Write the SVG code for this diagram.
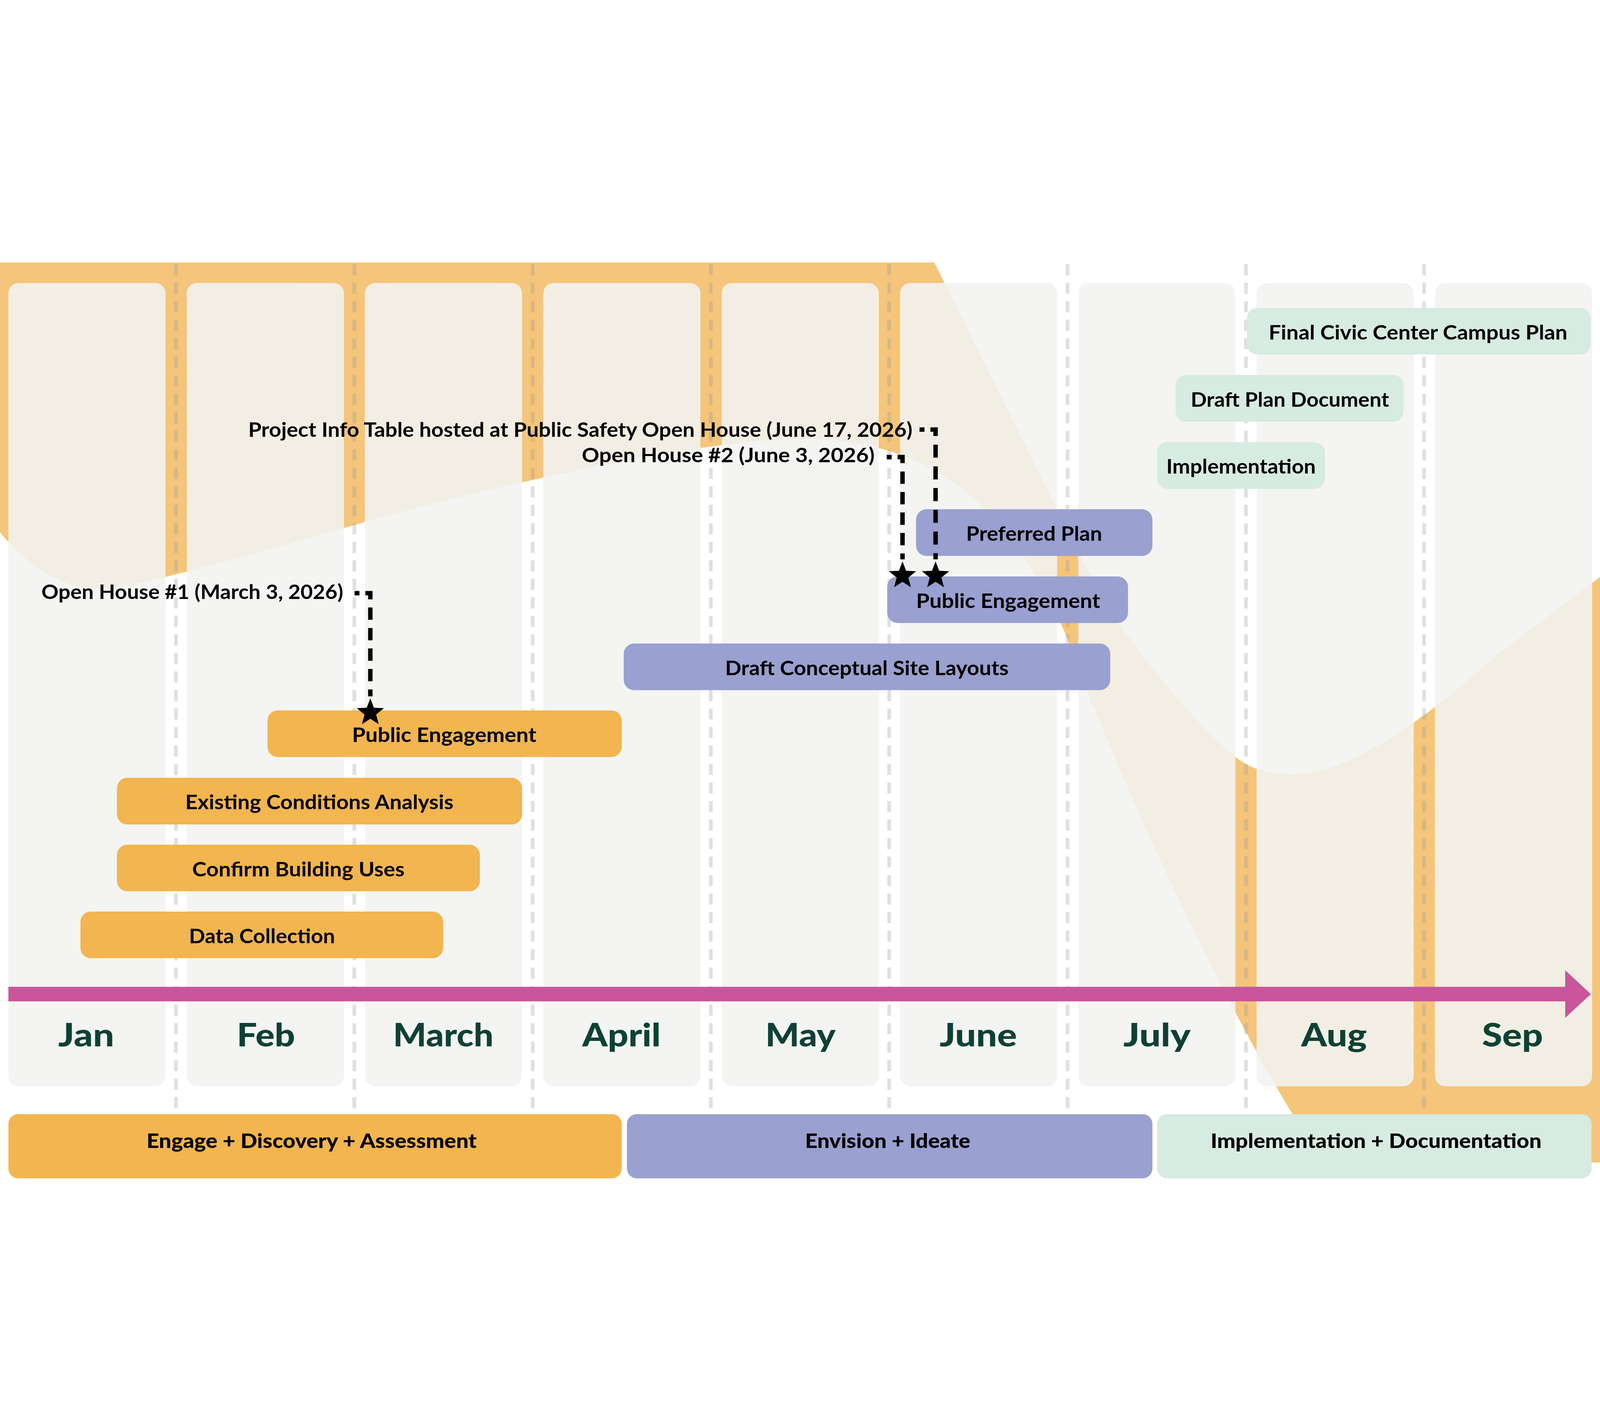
<svg xmlns="http://www.w3.org/2000/svg" xmlns:xlink="http://www.w3.org/1999/xlink" width="6485" height="3647" viewBox="0 0 6485 3647">
<style>
svg{width:100vw;height:100vh}
.bg{fill:#FFFFFF}
.band{fill:#F4C57A}
.col{fill:#F3F3F0;fill-opacity:0.89}
.gap{stroke:#989898;stroke-opacity:0.3;stroke-width:15;stroke-dasharray:45 30;fill:none}
.bo{fill:#F2B54F}
.bp{fill:#9AA0CF}
.bg2{fill:#D6EBE1}
.t{font-family:Lato,"Open Sans","Liberation Sans",sans-serif;font-weight:700;font-size:82px;fill:#000000}
.m{font-family:Lato,"Open Sans","Liberation Sans",sans-serif;font-weight:900;font-size:130px;fill:#0E4135}
.ph{font-family:Lato,"Open Sans","Liberation Sans",sans-serif;font-weight:900;font-size:82px;fill:#000000}
.c{stroke:#000000;stroke-width:18;fill:none;stroke-linejoin:miter;stroke-linecap:butt}
.star{fill:#000000}
.tl{fill:#C9559C}
</style>
<defs>
<path id="starShape" d="M0,-58 L14.5,-20 L55.2,-17.9 L23.5,7.7 L34.1,46.9 L0,25 L-34.1,46.9 L-23.5,7.7 L-55.2,-17.9 L-14.5,-20 Z"/>
</defs>
<rect class="bg" x="0" y="0" width="6485" height="3647"/>
<g id="background">
<path class="band" d="M0,1093 C100,1220 250,1322 400,1322 C550,1322 1100,1160 1474,1053 C1850,945 2800,715 3250,715 C3800,715 4150,1000 4408,1733 C4600,2230 5000,3100 5362,3647 L6485,3647 L6485,1275 L6070,1587 C5750,1880 5450,2073 5253,2073 C5150,2073 5080,2063 5002,1999 C4820,1850 4520,1475 4420,1272 L3787,0 L0,0 Z"/>
<g id="gridlines">
<line class="gap" x1="713" y1="7" x2="713" y2="3647"/>
<line class="gap" x1="1436" y1="7" x2="1436" y2="3647"/>
<line class="gap" x1="2159" y1="7" x2="2159" y2="3647"/>
<line class="gap" x1="2881" y1="7" x2="2881" y2="3647"/>
<line class="gap" x1="3604" y1="7" x2="3604" y2="3647"/>
<line class="gap" x1="4327" y1="7" x2="4327" y2="3647"/>
<line class="gap" x1="5050" y1="7" x2="5050" y2="3647"/>
<line class="gap" x1="5772" y1="7" x2="5772" y2="3647"/>
</g>
</g>
<g id="month-columns">
<g id="col-jan"><rect class="col" x="34" y="83" width="637" height="3255" rx="42"/><text class="m" x="236" y="3177" textLength="227" lengthAdjust="spacingAndGlyphs">Jan</text></g>
<g id="col-feb"><rect class="col" x="757" y="83" width="637" height="3255" rx="42"/><text class="m" x="960" y="3177" textLength="236" lengthAdjust="spacingAndGlyphs">Feb</text></g>
<g id="col-mar"><rect class="col" x="1479" y="83" width="637" height="3255" rx="42"/><text class="m" x="1593" y="3177" textLength="407" lengthAdjust="spacingAndGlyphs">March</text></g>
<g id="col-apr"><rect class="col" x="2202" y="83" width="637" height="3255" rx="42"/><text class="m" x="2360" y="3177" textLength="318" lengthAdjust="spacingAndGlyphs">April</text></g>
<g id="col-may"><rect class="col" x="2925" y="83" width="637" height="3255" rx="42"/><text class="m" x="3102" y="3177" textLength="285" lengthAdjust="spacingAndGlyphs">May</text></g>
<g id="col-jun"><rect class="col" x="3648" y="83" width="637" height="3255" rx="42"/><text class="m" x="3808" y="3177" textLength="314" lengthAdjust="spacingAndGlyphs">June</text></g>
<g id="col-jul"><rect class="col" x="4370" y="83" width="637" height="3255" rx="42"/><text class="m" x="4553" y="3177" textLength="273" lengthAdjust="spacingAndGlyphs">July</text></g>
<g id="col-aug"><rect class="col" x="5093" y="83" width="637" height="3255" rx="42"/><text class="m" x="5274" y="3177" textLength="266" lengthAdjust="spacingAndGlyphs">Aug</text></g>
<g id="col-sep"><rect class="col" x="5816" y="83" width="637" height="3255" rx="42"/><text class="m" x="6007" y="3177" textLength="247" lengthAdjust="spacingAndGlyphs">Sep</text></g>
</g>
<g id="timeline">
<rect class="tl" x="34" y="2935" width="6312" height="59"/>
<polygon class="tl" points="6344,2868 6448,2964.5 6344,3061"/>
</g>
<g id="phases">
<g id="phase-engage"><rect class="bo" x="34" y="3451" width="2486" height="260" rx="40"/><text class="ph" x="594" y="3588" textLength="1338" lengthAdjust="spacingAndGlyphs">Engage + Discovery + Assessment</text></g>
<g id="phase-envision"><rect class="bp" x="2541" y="3451" width="2130" height="260" rx="40"/><text class="ph" x="3263" y="3588" textLength="670" lengthAdjust="spacingAndGlyphs">Envision + Ideate</text></g>
<g id="phase-implementation"><rect class="bg2" x="4690" y="3451" width="1761" height="260" rx="40"/><text class="ph" x="4907" y="3588" textLength="1341" lengthAdjust="spacingAndGlyphs">Implementation + Documentation</text></g>
</g>
<g id="tasks">
<g id="task-final-plan"><rect class="bg2" x="5054" y="184" width="1393" height="189" rx="42"/><text class="t" x="5142" y="312" textLength="1211" lengthAdjust="spacingAndGlyphs">Final Civic Center Campus Plan</text></g>
<g id="task-draft-plan"><rect class="bg2" x="4765" y="456" width="924" height="189" rx="42"/><text class="t" x="4826" y="584" textLength="804" lengthAdjust="spacingAndGlyphs">Draft Plan Document</text></g>
<g id="task-implementation"><rect class="bg2" x="4690" y="728" width="680" height="189" rx="42"/><text class="t" x="4727" y="856" textLength="606" lengthAdjust="spacingAndGlyphs">Implementation</text></g>
<g id="task-preferred-plan"><rect class="bp" x="3713" y="1000" width="958" height="189" rx="42"/><text class="t" x="3916" y="1128" textLength="551" lengthAdjust="spacingAndGlyphs">Preferred Plan</text></g>
<g id="task-public-engagement-2"><rect class="bp" x="3596" y="1272" width="976" height="189" rx="42"/><text class="t" x="3713" y="1400" textLength="746" lengthAdjust="spacingAndGlyphs">Public Engagement</text></g>
<g id="task-draft-layouts"><rect class="bp" x="2528" y="1544" width="1972" height="189" rx="42"/><text class="t" x="2939" y="1672" textLength="1149" lengthAdjust="spacingAndGlyphs">Draft Conceptual Site Layouts</text></g>
<g id="task-public-engagement-1"><rect class="bo" x="1084" y="1815" width="1436" height="189" rx="42"/><text class="t" x="1427" y="1943" textLength="747" lengthAdjust="spacingAndGlyphs">Public Engagement</text></g>
<g id="task-existing-conditions"><rect class="bo" x="474" y="2088" width="1642" height="189" rx="42"/><text class="t" x="751" y="2216" textLength="1087" lengthAdjust="spacingAndGlyphs">Existing Conditions Analysis</text></g>
<g id="task-building-uses"><rect class="bo" x="474" y="2359" width="1471" height="189" rx="42"/><text class="t" x="779" y="2487" textLength="861" lengthAdjust="spacingAndGlyphs">Confirm Building Uses</text></g>
<g id="task-data-collection"><rect class="bo" x="326" y="2630" width="1470" height="189" rx="42"/><text class="t" x="766" y="2758" textLength="592" lengthAdjust="spacingAndGlyphs">Data Collection</text></g>
</g>
<g id="milestone-labels">
<g id="label-info-table"><text class="t" x="1006" y="706" textLength="2692" lengthAdjust="spacingAndGlyphs">Project Info Table hosted at Public Safety Open House (June 17, 2026)</text></g>
<g id="label-open-house-2"><text class="t" x="2358" y="810" textLength="1187" lengthAdjust="spacingAndGlyphs">Open House #2 (June 3, 2026)</text></g>
<g id="label-open-house-1"><text class="t" x="168" y="1364" textLength="1223" lengthAdjust="spacingAndGlyphs">Open House #1 (March 3, 2026)</text></g>
</g>
<g id="connectors">
<path class="c" d="M1437,1340 H1457"/>
<path class="c" d="M1481,1340 H1501 V1365"/>
<path class="c" d="M1501,1398 V1758" stroke-dasharray="50 33"/>
<path class="c" d="M3594,788.5 H3614"/>
<path class="c" d="M3638,788.5 H3658 V813"/>
<path class="c" d="M3658,847 V1203" stroke-dasharray="50 33"/>
<path class="c" d="M3727,677 H3747"/>
<path class="c" d="M3771,677 H3792 V703"/>
<path class="c" d="M3792,738 V1203" stroke-dasharray="53 35"/>
</g>
<g id="stars">
<use class="star" xlink:href="#starShape" x="1501" y="1824"/>
<use class="star" xlink:href="#starShape" x="3658" y="1269"/>
<use class="star" xlink:href="#starShape" x="3792" y="1269"/>
</g>
</svg>
